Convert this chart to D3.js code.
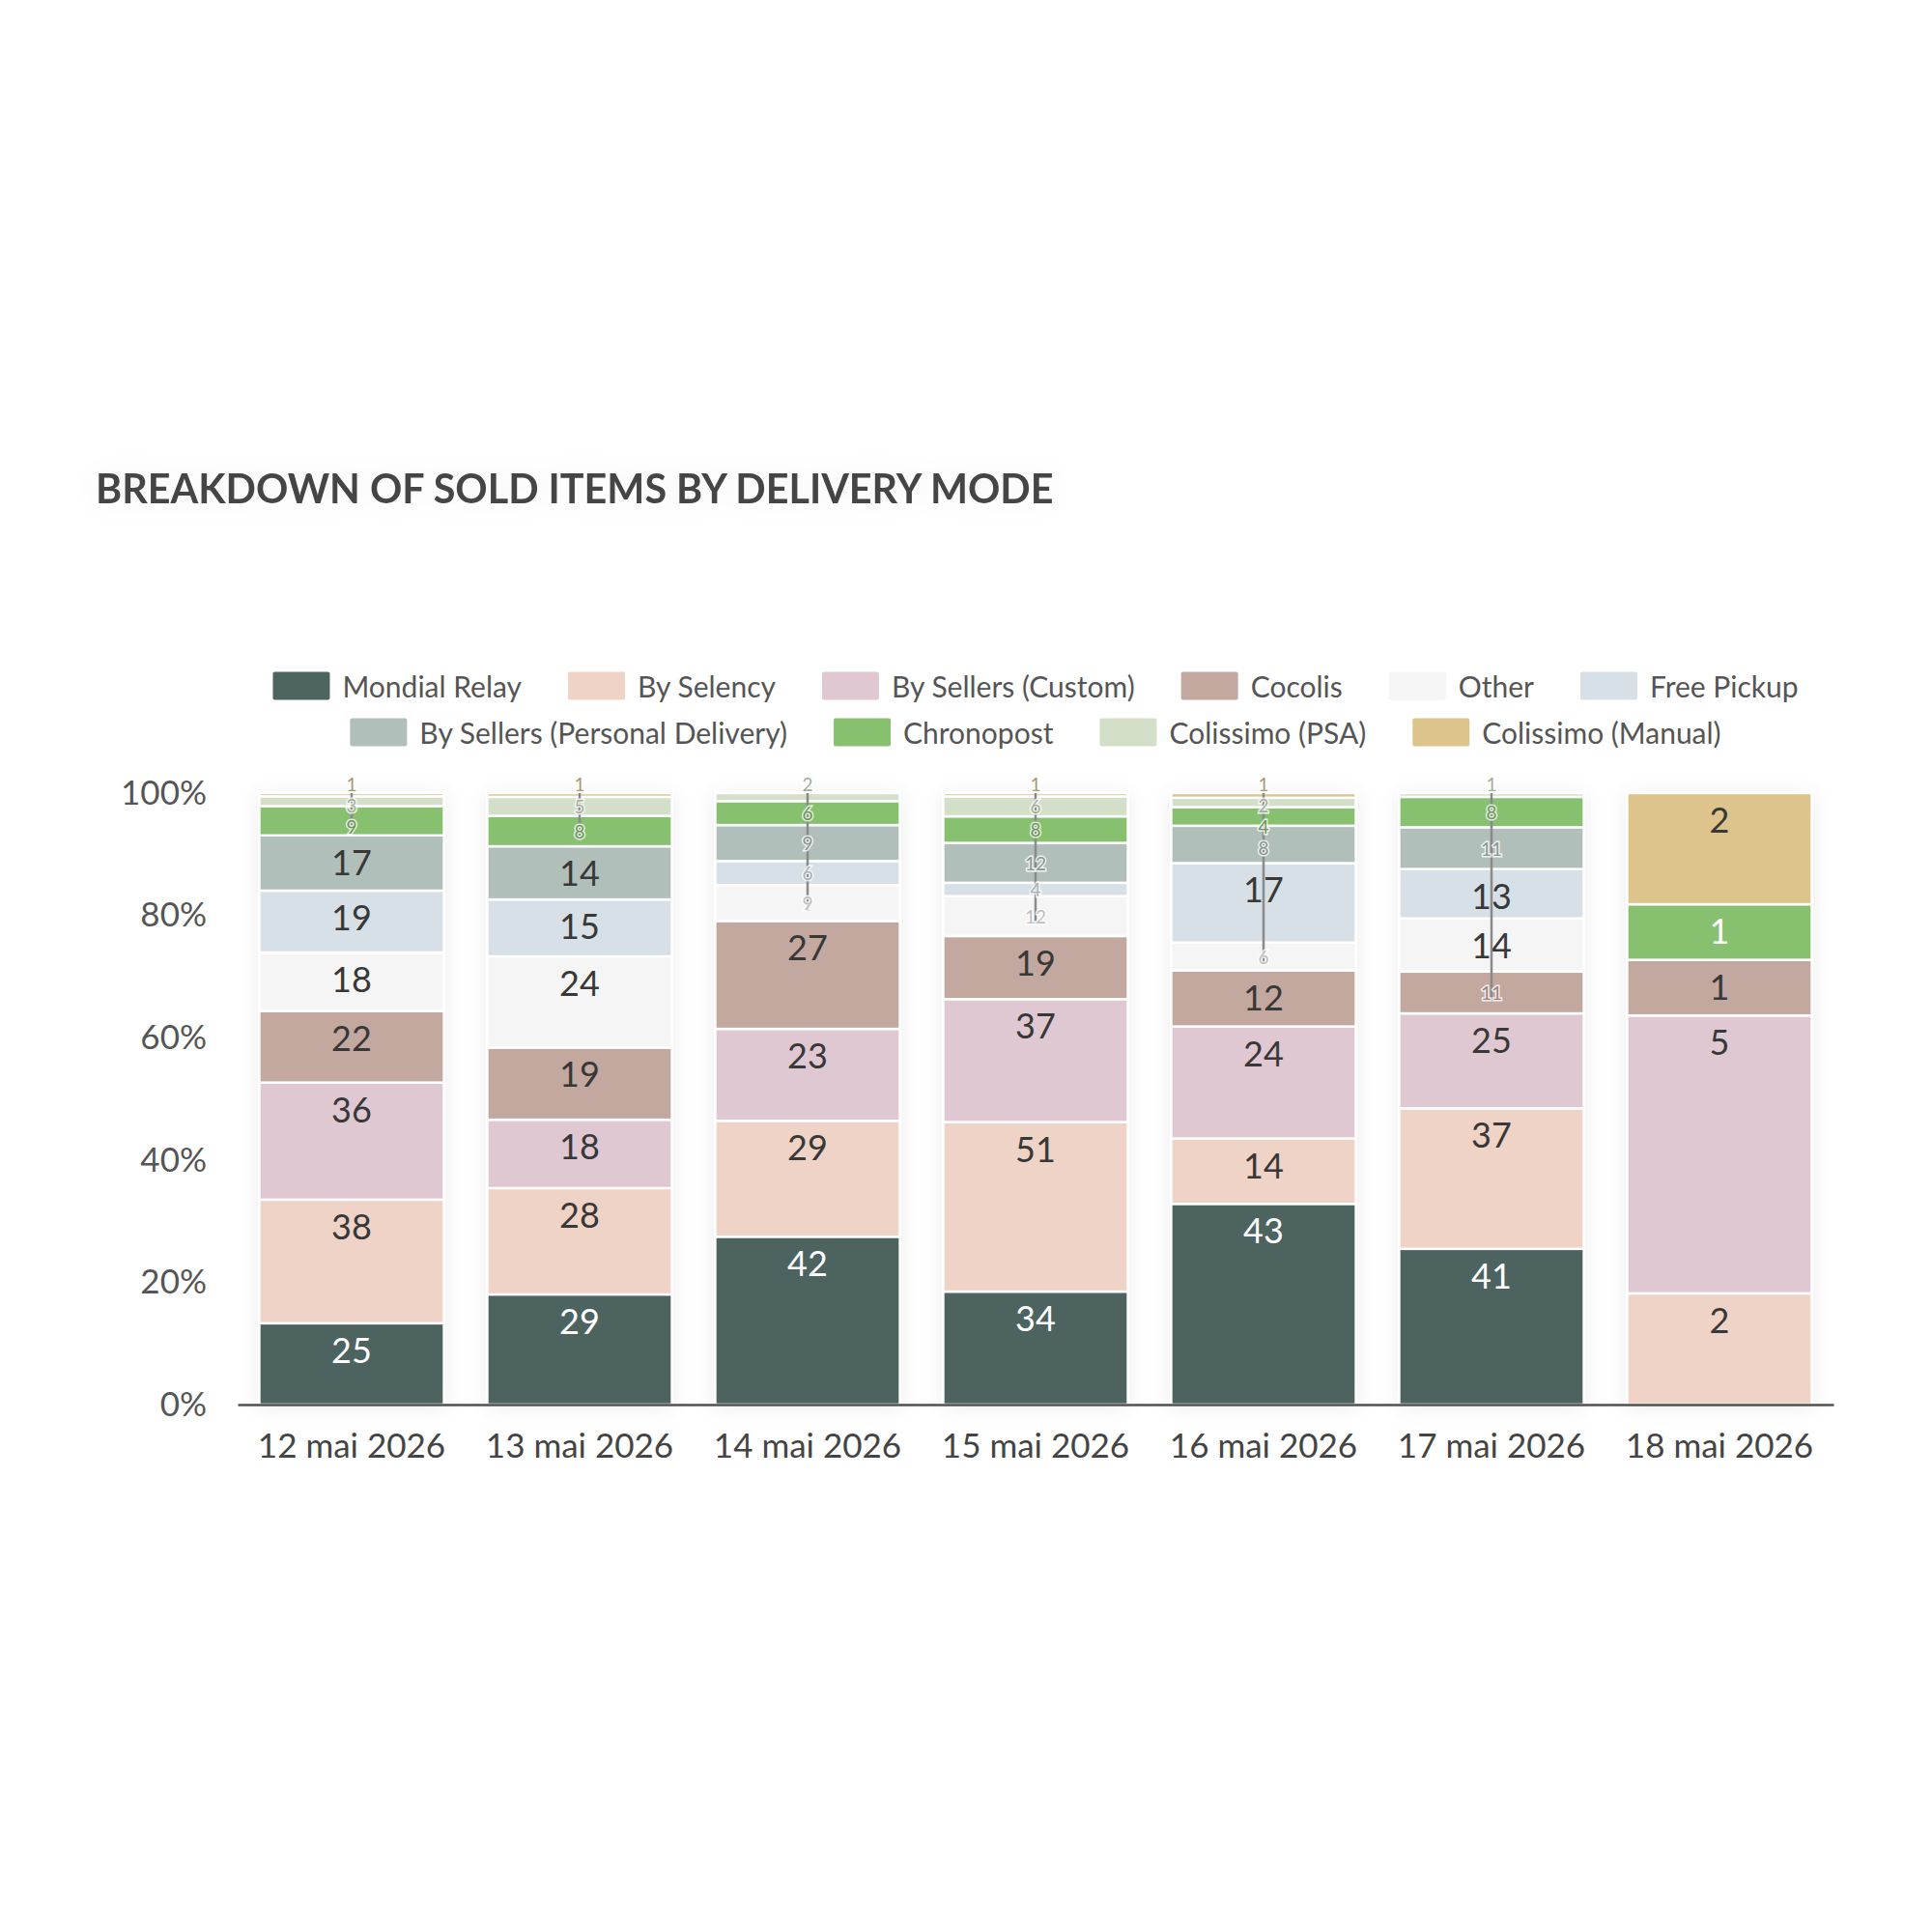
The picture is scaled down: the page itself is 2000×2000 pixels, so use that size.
<!DOCTYPE html>
<html><head><meta charset="utf-8">
<script src="https://cdn.jsdelivr.net/npm/d3@7"></script>
<style>body{margin:0;background:#fff}</style>
</head><body>
<svg id="chart" width="2000" height="2000" xmlns="http://www.w3.org/2000/svg"></svg>
<script>
// ---- data ----
const dates = ["12 mai 2026","13 mai 2026","14 mai 2026","15 mai 2026","16 mai 2026","17 mai 2026","18 mai 2026"];
const seriesNames = ["Mondial Relay","By Selency","By Sellers (Custom)","Cocolis","Other","Free Pickup","By Sellers (Personal Delivery)","Chronopost","Colissimo (PSA)","Colissimo (Manual)"];
const mondialRelay      = [25, 29, 42, 34, 43, 41, 0];
const bySelency         = [38, 28, 29, 51, 14, 37, 2];
const bySellersCustom   = [36, 18, 23, 37, 24, 25, 5];
const cocolis           = [22, 19, 27, 19, 12, 11, 1];
const other             = [18, 24,  9, 12,  6, 14, 0];
const freePickup        = [19, 15,  6,  4, 17, 13, 0];
const bySellersPersonal = [17, 14,  9, 12,  8, 11, 0];
const chronopost        = [ 9,  8,  6,  8,  4,  8, 1];
const colissimoPSA      = [ 3,  5,  2,  6,  2,  1, 0];
const colissimoManual   = [ 1,  1,  0,  1,  1,  0, 2];
const yTickValues = [0, 0.2, 0.4, 0.6, 0.8, 1];
const titleText = "BREAKDOWN OF SOLD ITEMS BY DELIVERY MODE";

const seriesValues = [mondialRelay, bySelency, bySellersCustom, cocolis, other, freePickup, bySellersPersonal, chronopost, colissimoPSA, colissimoManual];
const seriesColors = ["#4e6461","#efd3c6","#dfc8d1","#c3a89f","#f5f5f5","#d6e0e6","#b1bfbb","#87c16f","#d3dfc8","#dcc48c"];
const lightLabel = new Set(["Mondial Relay","Chronopost"]);

const table = dates.map((d, i) => {
  const row = {date: d};
  seriesNames.forEach((s, j) => row[s] = seriesValues[j][i]);
  return row;
});

const svg = d3.select("#chart");
const font = "Lato, 'Open Sans', sans-serif";

const defs = svg.append("defs");
const sh = defs.append("filter").attr("id","soft").attr("x","-20%").attr("y","-20%").attr("width","140%").attr("height","140%");
sh.append("feDropShadow").attr("dx",0).attr("dy",2).attr("stdDeviation",10).attr("flood-color","#000").attr("flood-opacity",0.07);
const tsh = defs.append("filter").attr("id","tsoft").attr("x","-10%").attr("y","-60%").attr("width","120%").attr("height","220%");
tsh.append("feDropShadow").attr("dx",0).attr("dy",0).attr("stdDeviation",14).attr("flood-color","#000").attr("flood-opacity",0.05);

// title
svg.append("text")
  .attr("x", 99).attr("y", 505)
  .attr("dominant-baseline","central")
  .attr("font-family", font).attr("font-weight", 700)
  .attr("font-size", 41.3).attr("fill", "#454545")
  .attr("filter","url(#tsoft)")
  .text(titleText);

// scales
const x = d3.scaleBand().domain(dates).range([246, 1898]).paddingInner(0.19).paddingOuter(0.095);
const y = d3.scaleLinear().domain([0, 1]).range([1454, 821]);
const color = d3.scaleOrdinal().domain(seriesNames).range(seriesColors);

const stack = d3.stack().keys(seriesNames).offset(d3.stackOffsetExpand);
const layers = stack(table);

// bars
const barsG = svg.append("g").attr("filter","url(#soft)");
layers.forEach(layer => {
  barsG.append("g").attr("fill", color(layer.key))
    .selectAll("rect").data(layer.filter(d => d[1] - d[0] > 0)).join("rect")
    .attr("x", d => x(d.data.date))
    .attr("width", x.bandwidth())
    .attr("y", d => y(d[1]))
    .attr("height", d => y(d[0]) - y(d[1]))
    .attr("stroke", "#fff").attr("stroke-width", 2.5);
});

const labelG = svg.append("g");
const smallSize = 19, smallStep = 22;

// large labels
layers.forEach(layer => {
  layer.forEach(d => {
    const v = d.data[layer.key];
    if (!v) return;
    const h = y(d[0]) - y(d[1]);
    if (h >= 46) {
      labelG.append("text")
        .attr("x", x(d.data.date) + x.bandwidth()/2).attr("y", y(d[1]) + 27)
        .attr("text-anchor","middle").attr("dominant-baseline","central")
        .attr("font-family", font).attr("font-size", 36)
        .attr("fill", lightLabel.has(layer.key) ? "#ffffff" : "#383838")
        .text(v);
    }
  });
});

// small labels: a column of labels along a connector, from the top of the bar down
dates.forEach((dt, i) => {
  const cx = x(dt) + x.bandwidth()/2;
  const smalls = [];
  for (let j = layers.length - 1; j >= 0; j--) {
    const d = layers[j][i];
    const v = d.data[layers[j].key];
    const h = y(d[0]) - y(d[1]);
    if (v && h < 46) smalls.push({key: layers[j].key, v, c: (y(d[0]) + y(d[1])) / 2});
  }
  if (!smalls.length) return;
  let prev = null;
  smalls.forEach((s, k) => {
    s.py = k === 0 ? Math.min(s.c, y(1) - 10) : Math.max(s.c, prev + smallStep);
    prev = s.py;
  });
  labelG.append("line")
    .attr("x1", cx).attr("x2", cx)
    .attr("y1", y(1)).attr("y2", prev + 8)
    .attr("stroke", "#8a8a8a").attr("stroke-width", 2.5);
  smalls.forEach(s => {
    const c = d3.color(color(s.key)).darker(0.7);
    labelG.append("text")
      .attr("x", cx).attr("y", s.py)
      .attr("text-anchor","middle").attr("dominant-baseline","central")
      .attr("font-family", font).attr("font-size", smallSize)
      .attr("fill", c.formatHex())
      .attr("stroke", "#fff").attr("stroke-width", 3).attr("stroke-opacity", 0.8)
      .attr("paint-order","stroke")
      .text(s.v);
  });
});

// x axis
const xAxis = svg.append("g").attr("transform", `translate(0,${y(0)})`)
  .call(d3.axisBottom(x).tickSize(0).tickPadding(30));
xAxis.select(".domain").attr("stroke", "#505050").attr("stroke-width", 2.5);
xAxis.selectAll("text").attr("font-family", font).attr("font-size", 35).attr("fill", "#444");

// y axis
const yAxis = svg.append("g").attr("transform", `translate(230,0)`)
  .call(d3.axisLeft(y).tickValues(yTickValues).tickFormat(d3.format(".0%")).tickSize(0).tickPadding(16));
yAxis.select(".domain").remove();
yAxis.selectAll("text").attr("font-family", font).attr("font-size", 35).attr("fill", "#555");

// legend (flow layout, centered rows)
const legendG = svg.append("g");
const swW = 59, swH = 29, swGap = 13, itemGap = 48, maxRow = 1650, rowY0 = 710, rowStep = 48;
const centerX = (x.range()[0] + x.range()[1]) / 2;
const items = seriesNames.map(name => {
  const g = legendG.append("g");
  g.append("rect").attr("width", swW).attr("height", swH).attr("y", -swH/2).attr("rx", 2)
    .attr("fill", color(name));
  const t = g.append("text").attr("x", swW + swGap).attr("dominant-baseline","central")
    .attr("font-family", font).attr("font-size", 30).attr("fill", "#555").text(name);
  return {g, w: swW + swGap + t.node().getComputedTextLength()};
});
const rows = [[]];
let cur = 0;
items.forEach(it => {
  const add = (rows[rows.length-1].length ? itemGap : 0) + it.w;
  if (cur + add > maxRow && rows[rows.length-1].length) { rows.push([it]); cur = it.w; }
  else { rows[rows.length-1].push(it); cur += add; }
});
rows.forEach((row, r) => {
  const total = d3.sum(row, d => d.w) + itemGap * (row.length - 1);
  let px = centerX - total / 2;
  row.forEach(it => {
    it.g.attr("transform", `translate(${px},${rowY0 + r * rowStep})`);
    px += it.w + itemGap;
  });
});
</script>
</body></html>
